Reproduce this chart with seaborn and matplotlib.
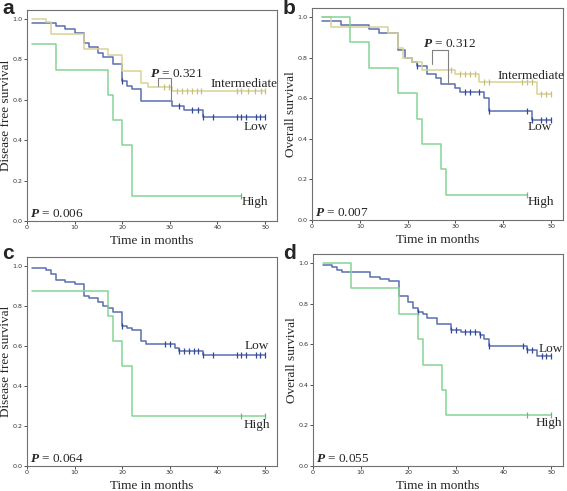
import matplotlib
matplotlib.use("Agg")
import matplotlib.pyplot as plt
import numpy as np
import pandas as pd
import seaborn as sns

# Kaplan-Meier step data (time in months, survival)
# panel a: disease free survival, three groups
a_low_t = [1, 6, 8, 10, 12, 13, 15, 16, 18, 20, 21, 22, 24, 30.5, 33, 37, 50]
a_low_s = [0.98, 0.965, 0.95, 0.93, 0.88, 0.86, 0.83, 0.81, 0.78, 0.695, 0.67, 0.653, 0.595, 0.57, 0.55, 0.513, 0.513]
a_low_c = [20, 32, 34.7, 36, 37, 39, 44, 45, 46, 48, 49, 50]
a_int_t = [1, 4, 5, 12, 17, 20, 24, 25.4, 30.4, 50]
a_int_s = [1.0, 0.985, 0.925, 0.85, 0.82, 0.745, 0.685, 0.665, 0.643, 0.643]
a_int_c = [28.8, 29.8, 31.4, 32.5, 33.5, 34.6, 35.6, 36.6, 44, 45, 46.4, 47.8, 49.2, 50]
a_high_t = [1, 6, 17, 18, 20, 22, 45]
a_high_s = [0.875, 0.75, 0.625, 0.5, 0.375, 0.125, 0.125]
a_high_c = [45]

# panel b: overall survival, three groups
b_low_t = [2, 6, 12, 14, 18, 19.5, 21, 22, 24, 26, 27, 30, 31, 36, 37, 46, 50]
b_low_s = [0.98, 0.96, 0.94, 0.92, 0.84, 0.80, 0.78, 0.76, 0.72, 0.70, 0.67, 0.65, 0.63, 0.60, 0.535, 0.495, 0.495]
b_low_c = [22, 32, 33, 35, 37, 45, 46, 48, 49, 50]
b_int_t = [2, 4, 16, 18, 19, 21, 23, 30, 35, 47, 50]
b_int_s = [1.0, 0.95, 0.92, 0.85, 0.80, 0.78, 0.74, 0.72, 0.68, 0.62, 0.62]
b_int_c = [29, 31, 32, 33, 34, 36, 37, 44, 45, 46, 48, 49, 50]
b_high_t = [2, 8, 12, 18, 22, 23, 27, 28, 45]
b_high_s = [1.0, 0.875, 0.75, 0.625, 0.5, 0.375, 0.25, 0.125, 0.125]
b_high_c = [45]

# panel c: disease free survival, two groups
c_low_t = [1, 4, 5, 6, 8, 10, 12, 13, 15, 16, 17, 18, 20, 21, 22, 24, 25, 31, 32, 37, 50]
c_low_s = [0.99, 0.98, 0.96, 0.93, 0.92, 0.91, 0.85, 0.84, 0.82, 0.80, 0.79, 0.77, 0.70, 0.69, 0.68, 0.625, 0.61, 0.59, 0.575, 0.555, 0.555]
c_low_c = [20, 29, 30, 32, 33, 34, 35, 36, 37, 39, 44, 45, 46, 48, 49, 50]
c_high_t = [1, 17, 18, 20, 22, 50]
c_high_s = [0.875, 0.75, 0.625, 0.5, 0.25, 0.25]
c_high_c = [45, 50]

# panel d: overall survival, two groups
d_low_t = [2, 4, 5, 6, 12, 14, 16, 18, 20, 21, 22, 23, 24, 26, 29, 31, 35, 36, 37, 45, 47, 50]
d_low_s = [0.99, 0.98, 0.965, 0.955, 0.93, 0.92, 0.91, 0.84, 0.81, 0.78, 0.76, 0.75, 0.73, 0.70, 0.67, 0.66, 0.645, 0.625, 0.59, 0.57, 0.54, 0.54]
d_low_c = [22, 29, 30, 32, 33, 34, 35, 37, 44, 45, 46, 48, 49, 50]
d_high_t = [2, 8, 18, 22, 23, 27, 28, 50]
d_high_s = [1.0, 0.875, 0.75, 0.625, 0.5, 0.375, 0.25, 0.25]
d_high_c = [45, 50]

p_values = ["0.006", "0.007", "0.064", "0.055"]
p_pairs = ["0.321", "0.312"]
ylabels = ["Disease free survival", "Overall survival", "Disease free survival", "Overall survival"]

colors = {"Low": "#5a6fb0", "Intermediate": "#d9d296", "High": "#86d495"}
mark_colors = {"Low": "#34489a", "Intermediate": "#c8bf78", "High": "#5cc070"}

sns.set_style("white")
plt.rcParams["mathtext.fontset"] = "custom"
plt.rcParams["mathtext.rm"] = "Liberation Serif"
plt.rcParams["mathtext.bfit"] = "Liberation Serif:italic:bold"
serif = "Liberation Serif"

fig = plt.figure(figsize=(5.67, 4.91), dpi=100)
positions = [
    [27 / 567, 270 / 491, 250 / 567, 211 / 491],
    [312 / 567, 271 / 491, 251 / 567, 212 / 491],
    [27 / 567, 25 / 491, 250 / 567, 209 / 491],
    [313 / 567, 25 / 491, 250 / 567, 212 / 491],
]

panels = [
    {"Low": (a_low_t, a_low_s, a_low_c), "Intermediate": (a_int_t, a_int_s, a_int_c), "High": (a_high_t, a_high_s, a_high_c)},
    {"Low": (b_low_t, b_low_s, b_low_c), "Intermediate": (b_int_t, b_int_s, b_int_c), "High": (b_high_t, b_high_s, b_high_c)},
    {"Low": (c_low_t, c_low_s, c_low_c), "High": (c_high_t, c_high_s, c_high_c)},
    {"Low": (d_low_t, d_low_s, d_low_c), "High": (d_high_t, d_high_s, d_high_c)},
]

# label places (x in months, y in survival)
group_labels = [
    {"Intermediate": (38.5, 0.68), "Low": (45.4, 0.466), "High": (45.0, 0.094)},
    {"Intermediate": (38.7, 0.71), "Low": (45.0, 0.46), "High": (45.0, 0.09)},
    {"Low": (45.7, 0.60), "High": (45.4, 0.205)},
    {"Low": (47.4, 0.575), "High": (46.8, 0.21)},
]
brackets = [
    ([27.5, 27.5, 30.3, 30.3], [0.667, 0.706, 0.706, 0.595], (25.9, 0.73)),
    ([25, 25, 28.5, 28.5], [0.77, 0.84, 0.84, 0.67], (23.3, 0.87)),
]
letters = ["a", "b", "c", "d"]
letter_pos = [(2, -1), (283, -1), (2, 244), (283, 244)]

for i, pos in enumerate(positions):
    ax = fig.add_axes(pos)
    for grp, (t, s, cens) in panels[i].items():
        df = pd.DataFrame({"t": t, "s": s})
        sns.lineplot(data=df, x="t", y="s", drawstyle="steps-post", color=colors[grp],
                     linewidth=1.1, ax=ax, estimator=None, sort=False)
        idx = np.searchsorted(np.array(t), np.array(cens), side="right") - 1
        cy = np.array(s)[idx]
        ax.plot(cens, cy, linestyle="none", marker="|", markersize=4,
                markeredgewidth=0.9, color=mark_colors[grp])
    for grp, (x, y) in group_labels[i].items():
        ax.text(x, y, grp, fontsize=9.5, family=serif, va="center", ha="left")
    ax.text(0.6, 0.036, r"$\mathbfit{P}$ = " + p_values[i], fontsize=9.5,
            family=serif, va="center", ha="left")
    if i < 2:
        bx, by, (tx, ty) = brackets[i]
        ax.plot(bx, by, color="#808080", linewidth=0.8)
        ax.text(tx, ty, r"$\mathbfit{P}$ = " + p_pairs[i], fontsize=9.5,
                family=serif, va="center", ha="left")

    ax.set_xlim(0, 52.5)
    ax.set_ylim(0, 1.045)
    ax.set_xticks([0, 10, 20, 30, 40, 50])
    ax.set_yticks([0.0, 0.2, 0.4, 0.6, 0.8, 1.0])
    ax.set_yticklabels(["0.0", "0.2", "0.4", "0.6", "0.8", "1.0"])
    ax.tick_params(axis="both", which="major", labelsize=4.6, length=2, width=0.6,
                   pad=1.2, direction="out", left=True, bottom=True, colors="#333333")
    ax.set_xlabel("Time in months", fontsize=9.5, family=serif)
    ax.set_ylabel(ylabels[i], fontsize=9.5, family=serif)
    ax.xaxis.set_label_coords(0.5, -0.065)
    ax.yaxis.set_label_coords(-0.06, 0.5)
    for sp in ax.spines.values():
        sp.set_visible(True)
        sp.set_color("#707070")
        sp.set_linewidth(0.8)

    lx, ly = letter_pos[i]
    fig.text(lx / 567, 1 - ly / 491, letters[i], fontsize=15, fontweight="bold",
             family="Liberation Sans", va="top", ha="left")

fig.savefig("out.png", dpi=100)
